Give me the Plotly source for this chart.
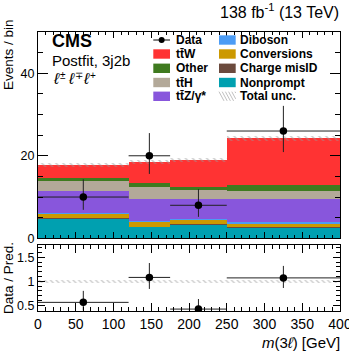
import plotly.graph_objects as go

# ---------------- data ----------------
bin_edges = [0, 120, 175, 250, 400]
bin_lo = bin_edges[:-1]
bin_hi = bin_edges[1:]
bin_centers = [(a + b) / 2 for a, b in zip(bin_lo, bin_hi)]
bin_widths = [b - a for a, b in zip(bin_lo, bin_hi)]

# stacked backgrounds, bottom -> top
nonprompt = [4.9, 2.8, 3.4, 2.7]
charge_misid = [0.05, 0.05, 0.05, 0.05]
conversions = [1.0, 1.1, 1.0, 0.95]
diboson = [0.3, 0.3, 0.2, 0.3]
ttz = [5.1, 5.35, 4.9, 5.5]
tth = [2.6, 2.75, 2.1, 2.0]
other = [0.7, 1.1, 0.9, 1.4]
ttw = [3.2, 5.1, 6.4, 11.4]
total_unc = [0.5, 0.5, 0.5, 0.6]

data_y = [10, 20, 8, 26]
data_err_up = [4.3, 5.5, 3.9, 6.1]
data_err_dn = [3.1, 4.4, 2.8, 5.1]

ratio_y = [0.56, 1.08, 0.42, 1.07]
ratio_err_up = [0.24, 0.30, 0.21, 0.25]
ratio_err_dn = [0.17, 0.24, 0.15, 0.21]
ratio_unc = [0.035, 0.035, 0.035, 0.035]

x_ticks = [0, 50, 100, 150, 200, 250, 300, 350, 400]
y_ticks = [0, 20, 40]
r_ticks = [0.5, 1, 1.5]
r_ticklabels = ["0.5", "1", "1.5"]

samples = [
    ("Nonprompt", nonprompt, "#00a0b0"),
    ("Charge misID", charge_misid, "#6b4a3d"),
    ("Conversions", conversions, "#cc9900"),
    ("Diboson", diboson, "#4c9cf5"),
    ("tt̄Z/γ*", ttz, "#8856dc"),
    ("tt̄H", tth, "#b3a999"),
    ("Other", other, "#3f7a1f"),
    ("tt̄W", ttw, "#ff3333"),
]

FONT = "Liberation Sans, Arial, Helvetica, sans-serif"
HATCH = "#9a9a9a"

fig = go.Figure()

cum = [0.0] * len(bin_centers)
for name, vals, col in samples:
    fig.add_trace(go.Bar(
        x=bin_centers, y=vals, base=list(cum), width=bin_widths, name=name,
        marker=dict(color=col, line=dict(width=0)),
        xaxis="x", yaxis="y", showlegend=False,
    ))
    cum = [c + v for c, v in zip(cum, vals)]

totals = cum

fig.add_trace(go.Bar(
    x=bin_centers, y=[2 * u for u in total_unc],
    base=[t - u for t, u in zip(totals, total_unc)],
    width=bin_widths, name="Total unc.",
    marker=dict(color="rgba(0,0,0,0)", line=dict(width=0),
                pattern=dict(shape="\\", fgcolor=HATCH, bgcolor="rgba(0,0,0,0)",
                             size=5, solidity=0.3)),
    xaxis="x", yaxis="y", showlegend=False,
))

half_w = [w / 2 for w in bin_widths]

fig.add_trace(go.Scatter(
    x=bin_centers, y=data_y, mode="markers", name="Data",
    marker=dict(color="black", size=7.5),
    error_x=dict(type="data", array=half_w, width=0, thickness=1, color="#222222"),
    error_y=dict(type="data", symmetric=False, array=data_err_up,
                 arrayminus=data_err_dn, width=0, thickness=1, color="#222222"),
    xaxis="x", yaxis="y", showlegend=False,
))

# ratio panel
fig.add_trace(go.Bar(
    x=bin_centers, y=[2 * u for u in ratio_unc],
    base=[1 - u for u in ratio_unc],
    width=bin_widths, name="Total unc.",
    marker=dict(color="rgba(0,0,0,0)", line=dict(width=0),
                pattern=dict(shape="\\", fgcolor=HATCH, bgcolor="rgba(0,0,0,0)",
                             size=4, solidity=0.35)),
    xaxis="x2", yaxis="y2", showlegend=False,
))

fig.add_trace(go.Scatter(
    x=bin_centers, y=ratio_y, mode="markers", name="Data / Pred.",
    marker=dict(color="black", size=7.5),
    error_x=dict(type="data", array=half_w, width=0, thickness=1, color="#222222"),
    error_y=dict(type="data", symmetric=False, array=ratio_err_up,
                 arrayminus=ratio_err_dn, width=0, thickness=1, color="#222222"),
    xaxis="x2", yaxis="y2", showlegend=False,
))

# ---------------- layout ----------------
L, R, T, B = 38, 9, 32, 41
W, H = 349, 352
PW, PH = W - L - R, H - T - B


def px_x(p):
    return (p - L) / PW


def px_y(p):
    return (H - B - p) / PH


axis_common = dict(
    showline=True, linecolor="black", linewidth=1, mirror="ticks",
    ticks="inside", tickcolor="black", showgrid=False, zeroline=False,
    tickfont=dict(family=FONT, size=12.5, color="black"),
    ticklabeloverflow="allow", automargin=False,
)

fig.update_layout(
    width=W, height=H, autosize=False,
    margin=dict(l=L, r=R, t=T, b=B, autoexpand=False),
    paper_bgcolor="white", plot_bgcolor="white",
    barmode="overlay",
    bargap=0,
    showlegend=False,
    font=dict(family=FONT, color="black"),
    xaxis=dict(axis_common, domain=[0, 1], range=[0, 400], anchor="y",
               tickvals=x_ticks, showticklabels=False, ticklen=6, tickwidth=1,
               minor=dict(dtick=10, ticklen=3, ticks="inside", tickcolor="black",
                          showgrid=False)),
    yaxis=dict(axis_common, domain=[px_y(238.3), 1], range=[0, 50], anchor="x",
               tickvals=y_ticks, ticklen=10, tickwidth=1,
               minor=dict(dtick=5, ticklen=5, ticks="inside", tickcolor="black",
                          showgrid=False)),
    xaxis2=dict(axis_common, domain=[0, 1], range=[0, 400], anchor="y2",
                tickvals=x_ticks, ticklen=8, tickwidth=1,
                tickfont=dict(family=FONT, size=14, color="black"),
                minor=dict(dtick=10, ticklen=4, ticks="inside", tickcolor="black",
                           showgrid=False)),
    yaxis2=dict(axis_common, domain=[0, px_y(245)], range=[0.38, 1.756], anchor="x2",
                tickvals=r_ticks, ticktext=r_ticklabels, ticklen=7, tickwidth=1,
                minor=dict(dtick=0.1, ticklen=4, ticks="inside", tickcolor="black",
                           showgrid=False)),
)

ann = []
shapes = []


def text(x, y, s, size, xanchor="left", yanchor="middle", bold=False, angle=0):
    ann.append(dict(
        x=px_x(x), y=px_y(y), xref="paper", yref="paper", text=s,
        showarrow=False, xanchor=xanchor, yanchor=yanchor, textangle=angle,
        borderpad=0,
        font=dict(family=FONT, size=size, color="black",
                  weight="bold" if bold else "normal"),
    ))


text(340, 11, "138 fb<sup>-1</sup> (13 TeV)", 16, xanchor="right")
text(51, 40.5, "CMS", 18, bold=True)
text(51, 60.3, "Postfit, 3j2b", 15)
# lepton flavour/charge label: italic ell with charge superscripts
lep_x = [51.5, 66.5, 81.5]
lep_sup = ["±", "∓", "+"]
for lx, sp in zip(lep_x, lep_sup):
    text(lx, 78.3, "<i>ℓ</i>", 16)
    text(lx + 7.2, 75.3, sp, 10)
text(8, 55, "Events / bin", 13.5, xanchor="center", angle=-90)
text(8, 278, "Data / Pred.", 13.5, xanchor="center", angle=-90)
text(341, 342, "<i>m</i>(3<i>ℓ</i>) [GeV]", 15, xanchor="right")

# manual legend
rows = [40, 54, 68.3, 82.5, 96.3]
col1 = (153.3, 170, 174.5)
col2 = (219, 235.7, 239)
leg1 = [("Data", None), ("tt̄W", "#ff3333"), ("Other", "#3f7a1f"),
        ("tt̄H", "#b3a999"), ("tt̄Z/γ*", "#8856dc")]
leg2 = [("Diboson", "#4c9cf5"), ("Conversions", "#cc9900"),
        ("Charge misID", "#6b4a3d"), ("Nonprompt", "#00a0b0"), ("Total unc.", "hatch")]

for (lbl, col), yc in zip(leg1 + leg2, rows + rows):
    c = col1 if (lbl, col) in leg1 else col2
    x0, x1, xt = c
    if col is None:
        shapes.append(dict(type="line", xref="paper", yref="paper",
                           x0=px_x(x0), x1=px_x(x1), y0=px_y(yc), y1=px_y(yc),
                           line=dict(color="black", width=1)))
        shapes.append(dict(type="circle", xref="paper", yref="paper",
                           x0=px_x((x0 + x1) / 2 - 3), x1=px_x((x0 + x1) / 2 + 3),
                           y0=px_y(yc - 3), y1=px_y(yc + 3),
                           fillcolor="black", line=dict(width=0)))
    elif col == "hatch":
        for k in range(6):
            xs = x0 + k * 3.2
            xe = min(xs + 5, x1)
            shapes.append(dict(type="line", xref="paper", yref="paper",
                               x0=px_x(xs), x1=px_x(xe),
                               y0=px_y(yc - 4.6), y1=px_y(yc - 4.6 + (xe - xs) * 1.84),
                               line=dict(color="#b0b0b0", width=0.8)))
    else:
        shapes.append(dict(type="rect", xref="paper", yref="paper",
                           x0=px_x(x0), x1=px_x(x1), y0=px_y(yc - 4.7), y1=px_y(yc + 4.7),
                           fillcolor=col, line=dict(width=0)))
    text(xt, yc, lbl, 12, bold=True)

fig.update_layout(annotations=ann, shapes=shapes)

fig.write_html(
    "out.html",
    config={"displayModeBar": False},
    post_script="document.body.style.margin='0';document.body.style.overflow='hidden';",
)
